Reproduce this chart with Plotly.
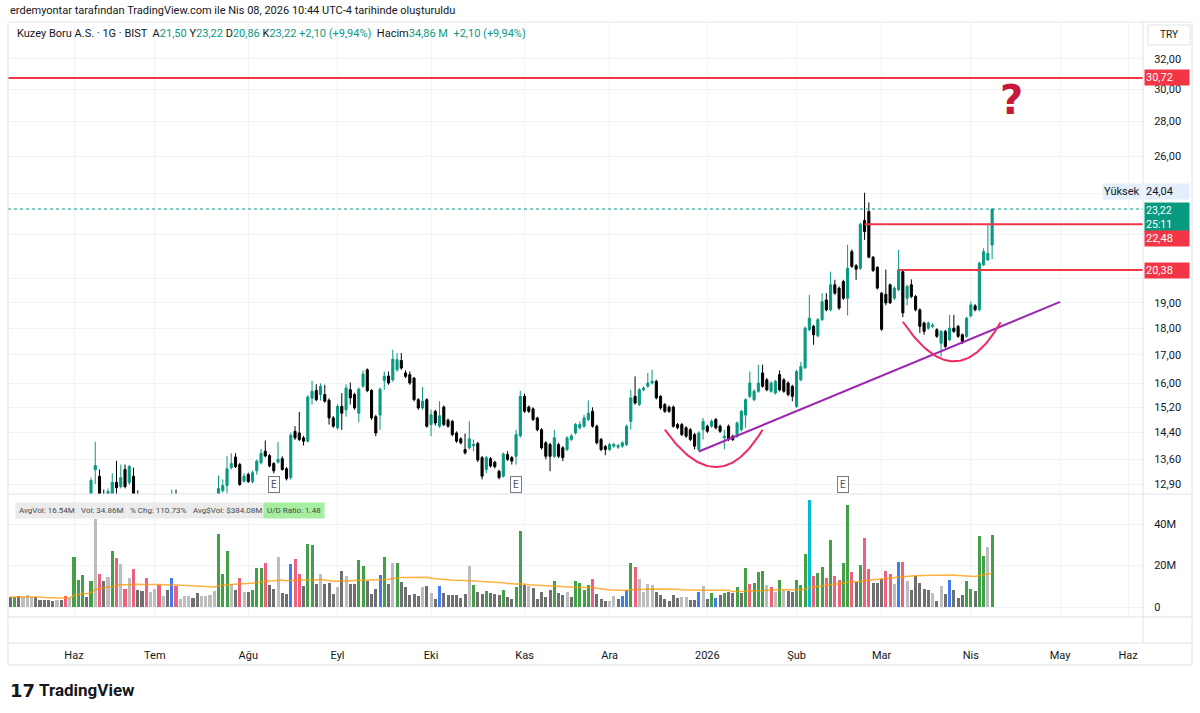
import numpy as np
import pandas as pd
import plotly.graph_objects as go

W, H = 1200, 713
FONT = "Roboto"
TXT = "#131722"
UP = "#089981"
DOWN = "#000000"
RED = "#f23645"

# ---------------- calendar (BIST trading days) ----------------
holidays = ["2025-05-19", "2025-06-06", "2025-06-09", "2025-07-15", "2025-10-29",
            "2026-01-01", "2026-03-20", "2026-04-23", "2026-05-01", "2026-05-19",
            "2026-05-27", "2026-05-28", "2026-05-29"]
cal = pd.bdate_range("2025-05-09", "2026-06-30")
cal = cal[~cal.isin(pd.to_datetime(holidays))]
cal_str = [d.strftime("%Y-%m-%d") for d in cal]
slot = {d: k for k, d in enumerate(cal_str)}
n_bars = 232
dates = cal_str[:n_bars]

# ---------------- daily OHLC (TRY) ----------------
open_ = [11.50, 11.40, 11.55, 11.45, 11.50, 11.60, 11.56, 11.46, 11.38, 11.30,
         11.22, 11.12, 11.18, 11.10, 11.02, 11.10, 11.62, 11.98, 12.40, 12.30,
         13.30, 13.12, 12.60, 12.50, 12.62, 12.95, 12.83, 13.31, 12.94, 13.12,
         12.55, 12.40, 12.28, 11.95, 12.05, 12.15, 11.90, 11.98, 11.90, 12.55,
         12.30, 12.35, 12.40, 12.44, 12.36, 12.28, 12.34, 12.38, 12.45, 12.50,
         12.72, 12.86, 13.36, 13.67, 13.45, 12.98, 13.17, 12.97, 13.27, 13.50,
         13.84, 13.71, 13.48, 13.52, 13.62, 13.33, 13.08, 14.44, 14.39, 14.24,
         14.14, 15.50, 15.76, 15.62, 15.62, 15.43, 14.86, 14.55, 15.23, 15.12,
         15.78, 15.62, 15.01, 15.90, 16.47, 15.76, 14.90, 14.95, 16.10, 16.25,
         16.12, 16.47, 16.80, 16.36, 16.30, 16.18, 15.45, 15.18, 15.45, 14.65,
         15.07, 14.60, 15.21, 14.79, 14.75, 14.39, 14.21, 13.89, 13.94, 14.00,
         14.07, 13.65, 13.31, 13.62, 13.52, 13.26, 13.12, 13.74, 13.65, 13.69,
         14.30, 15.56, 15.21, 15.15, 14.86, 14.49, 14.09, 14.04, 13.69, 14.04,
         13.94, 13.89, 14.19, 14.39, 14.55, 14.60, 14.81, 15.07, 14.60, 14.19,
         13.98, 13.89, 13.99, 13.96, 13.99, 14.04, 14.75, 15.56, 15.29, 15.78,
         15.90, 16.01, 16.07, 15.56, 15.29, 15.21, 15.21, 14.65, 14.65, 14.55,
         14.49, 14.34, 13.89, 14.49, 14.60, 14.60, 14.81, 14.60, 14.24, 14.60,
         14.29, 14.29, 14.49, 14.95, 15.56, 15.45, 15.73, 16.36, 16.12, 15.73,
         15.67, 16.30, 16.12, 16.01, 15.90, 15.23, 16.12, 16.54, 17.94, 18.07,
         17.71, 18.33, 19.12, 18.72, 19.75, 19.61, 19.89, 19.19, 21.20, 20.57,
         20.46, 22.66, 23.10, 20.95, 20.50, 19.40, 19.35, 19.75, 19.19, 19.54,
         20.31, 19.19, 19.75, 19.26, 18.72, 18.20, 18.00, 18.07, 17.94, 17.43,
         17.88, 17.56, 18.00, 18.07, 17.75, 17.69, 18.48, 18.88, 18.72, 20.61,
         20.83, 21.50]
high = [11.58, 11.62, 11.60, 11.58, 11.66, 11.64, 11.60, 11.50, 11.42, 11.34,
        11.26, 11.22, 11.22, 11.14, 11.14, 11.70, 12.05, 12.48, 12.50, 13.08,
        14.12, 13.31, 12.75, 12.78, 13.20, 13.56, 13.45, 13.45, 13.43, 13.36,
        12.73, 12.45, 12.32, 12.12, 12.22, 12.20, 12.05, 12.02, 12.75, 12.75,
        12.40, 12.46, 12.50, 12.48, 12.42, 12.40, 12.44, 12.52, 12.58, 13.14,
        13.03, 13.69, 13.78, 13.78, 13.50, 13.20, 13.22, 13.28, 13.60, 13.91,
        14.16, 13.76, 13.52, 14.12, 13.69, 13.38, 14.40, 14.60, 15.05, 14.30,
        15.60, 16.09, 15.97, 16.00, 15.95, 15.50, 14.92, 15.30, 15.67, 15.97,
        16.03, 15.68, 15.86, 16.45, 16.52, 15.80, 14.96, 15.86, 16.41, 16.41,
        17.19, 17.07, 17.07, 16.45, 16.41, 16.22, 15.50, 15.87, 15.50, 15.12,
        15.12, 15.40, 15.26, 14.84, 14.80, 14.44, 14.26, 14.37, 14.75, 14.19,
        14.12, 13.70, 13.70, 13.67, 13.56, 13.30, 13.80, 13.84, 13.70, 14.49,
        15.75, 15.65, 15.26, 15.20, 14.90, 14.54, 14.14, 14.09, 14.49, 14.09,
        13.99, 14.29, 14.36, 14.70, 14.75, 14.96, 15.43, 15.20, 14.65, 14.24,
        14.02, 14.09, 14.09, 14.06, 14.14, 14.65, 15.78, 16.24, 15.84, 15.90,
        16.36, 16.47, 16.12, 15.60, 15.34, 15.26, 15.26, 14.70, 14.70, 14.60,
        14.54, 14.39, 14.44, 14.86, 14.65, 14.81, 14.86, 14.65, 14.49, 14.65,
        14.34, 14.75, 15.12, 15.50, 16.41, 15.80, 16.65, 16.65, 16.18, 16.07,
        16.12, 16.45, 16.18, 16.07, 15.95, 16.47, 16.75, 18.07, 19.33, 18.13,
        18.39, 19.40, 19.40, 20.31, 19.96, 19.68, 19.96, 21.51, 21.30, 20.65,
        22.55, 24.04, 23.55, 21.00, 20.55, 19.45, 20.40, 19.80, 19.68, 21.28,
        20.36, 19.75, 19.98, 19.33, 18.78, 18.26, 18.26, 18.20, 18.00, 17.94,
        17.94, 18.52, 18.52, 18.13, 17.80, 18.45, 19.05, 18.95, 20.75, 21.35,
        22.48, 23.22]
low = [11.35, 11.36, 11.40, 11.42, 11.46, 11.50, 11.42, 11.34, 11.26, 11.18,
       11.08, 11.08, 11.05, 10.98, 10.98, 11.08, 11.58, 11.95, 12.22, 12.28,
       12.90, 12.50, 12.40, 12.45, 12.55, 12.60, 12.78, 12.78, 12.88, 12.50,
       12.32, 12.20, 11.90, 11.90, 12.00, 11.85, 11.86, 11.84, 11.88, 12.25,
       12.24, 12.30, 12.34, 12.30, 12.22, 12.24, 12.30, 12.34, 12.40, 12.46,
       12.67, 12.66, 13.31, 13.35, 12.85, 12.94, 12.93, 12.92, 13.16, 13.45,
       13.66, 13.37, 13.20, 13.48, 13.28, 13.00, 13.02, 14.18, 14.14, 14.01,
       14.10, 15.29, 15.40, 15.42, 15.35, 14.65, 14.55, 14.49, 14.49, 14.90,
       15.29, 15.12, 14.72, 15.85, 15.70, 14.80, 14.29, 14.49, 15.78, 15.95,
       16.05, 16.40, 16.47, 16.18, 15.95, 15.40, 15.12, 15.12, 14.55, 14.29,
       14.62, 14.55, 14.60, 14.55, 14.29, 14.09, 14.04, 13.74, 13.89, 13.84,
       13.52, 13.03, 13.20, 13.36, 13.34, 13.03, 13.08, 13.55, 13.45, 13.45,
       14.25, 15.02, 15.02, 14.76, 14.44, 13.89, 13.60, 13.26, 13.64, 13.64,
       13.55, 13.84, 14.14, 14.34, 14.50, 14.55, 14.76, 14.55, 14.04, 13.84,
       13.72, 13.84, 13.94, 13.91, 13.94, 13.99, 14.49, 15.29, 15.24, 15.73,
       15.85, 15.96, 15.46, 15.12, 15.02, 15.02, 14.55, 14.50, 14.29, 14.24,
       14.14, 13.89, 13.84, 14.19, 14.39, 14.55, 14.50, 14.39, 13.89, 14.14,
       14.14, 14.24, 14.44, 14.55, 15.50, 15.40, 15.68, 15.85, 15.73, 15.68,
       15.62, 15.73, 15.68, 15.56, 15.40, 15.18, 16.07, 16.50, 17.88, 17.37,
       17.65, 18.28, 18.66, 18.66, 19.33, 18.72, 19.12, 18.50, 20.48, 19.96,
       20.39, 21.74, 20.90, 20.30, 19.55, 17.90, 18.90, 18.95, 19.12, 19.48,
       18.43, 18.90, 19.19, 18.66, 17.82, 17.75, 17.94, 18.00, 17.63, 16.95,
       17.25, 17.50, 17.82, 17.63, 17.40, 17.63, 18.42, 18.66, 18.66, 20.56,
       20.78, 20.86]
close = [11.40, 11.55, 11.45, 11.52, 11.60, 11.56, 11.46, 11.38, 11.30, 11.22,
         11.12, 11.18, 11.10, 11.02, 11.10, 11.62, 11.98, 12.40, 12.30, 13.00,
         13.42, 12.55, 12.50, 12.70, 12.95, 12.80, 13.08, 12.83, 13.40, 12.55,
         12.40, 12.28, 11.95, 12.05, 12.15, 11.90, 11.98, 11.90, 12.55, 12.30,
         12.35, 12.40, 12.44, 12.36, 12.28, 12.34, 12.38, 12.45, 12.50, 12.78,
         12.86, 13.33, 13.48, 13.39, 12.89, 13.12, 12.97, 13.22, 13.55, 13.78,
         13.70, 13.41, 13.27, 13.60, 13.31, 13.05, 14.32, 14.24, 14.19, 14.14,
         15.54, 15.73, 15.45, 15.90, 15.40, 14.86, 14.60, 15.23, 15.01, 15.84,
         15.51, 15.18, 15.80, 16.32, 15.75, 14.86, 14.39, 15.80, 16.25, 16.01,
         16.85, 16.83, 16.53, 16.24, 16.01, 15.45, 15.18, 15.40, 14.60, 14.96,
         14.70, 14.93, 14.65, 14.60, 14.34, 14.14, 14.09, 13.79, 14.21, 14.04,
         13.58, 13.12, 13.65, 13.41, 13.39, 13.08, 13.76, 13.60, 13.55, 14.34,
         15.56, 15.07, 15.07, 14.81, 14.49, 13.94, 13.69, 13.69, 14.24, 13.69,
         13.65, 14.24, 14.30, 14.65, 14.65, 14.86, 15.01, 14.60, 14.09, 13.89,
         13.89, 14.04, 14.04, 14.01, 14.09, 14.60, 15.51, 15.34, 15.78, 15.84,
         16.01, 16.07, 15.51, 15.18, 15.07, 15.07, 14.60, 14.55, 14.34, 14.29,
         14.19, 13.99, 14.39, 14.75, 14.44, 14.75, 14.55, 14.44, 14.29, 14.19,
         14.19, 14.70, 15.07, 15.45, 16.01, 15.73, 16.01, 15.90, 15.78, 16.01,
         16.07, 15.78, 15.73, 15.62, 15.56, 16.41, 16.58, 18.00, 18.39, 17.75,
         18.33, 19.05, 18.72, 19.75, 19.40, 18.79, 19.19, 20.46, 20.54, 20.42,
         22.48, 22.13, 20.95, 20.36, 19.61, 17.96, 19.00, 19.00, 19.61, 20.39,
         18.60, 19.68, 19.26, 18.72, 18.07, 17.88, 18.20, 18.11, 17.69, 17.88,
         17.31, 18.00, 17.88, 17.69, 17.50, 18.39, 18.92, 18.72, 20.68, 21.20,
         21.12, 23.22]

# ---------------- volume (millions) and its colour class ----------------
volume_m = [4.8, 4.8, 5.3, 4.8, 5.6, 4.8, 4.8, 3.2, 3.5, 3.2,
            2.9, 3.2, 3.5, 5.3, 4.5, 24.1, 13.2, 15.3, 4.8, 12.4,
            42.6, 16.1, 12.5, 14.5, 27.0, 23.8, 20.6, 8.8, 13.9, 18.5,
            8.0, 7.6, 13.9, 7.2, 8.8, 10.4, 5.3, 8.0, 13.9, 9.9,
            4.0, 5.3, 5.3, 4.3, 6.9, 5.3, 5.3, 5.6, 7.6, 35.0,
            16.1, 27.0, 11.2, 8.0, 13.9, 7.2, 7.2, 8.0, 18.6, 18.6,
            21.3, 10.4, 8.8, 24.1, 6.9, 6.1, 20.9, 23.3, 16.1, 9.9,
            30.6, 29.7, 10.9, 15.8, 10.9, 11.6, 6.1, 9.6, 17.2, 15.0,
            11.2, 11.2, 22.8, 19.6, 12.4, 6.4, 8.5, 15.2, 24.0, 10.9,
            21.4, 21.4, 12.1, 9.4, 5.6, 6.1, 5.1, 9.4, 10.1, 6.8,
            4.0, 10.1, 6.8, 5.9, 5.6, 5.6, 4.3, 6.4, 19.8, 10.6,
            7.2, 6.3, 7.6, 6.8, 6.3, 5.9, 8.2, 4.8, 4.0, 9.5,
            36.5, 10.8, 10.1, 9.0, 4.0, 7.4, 4.8, 8.2, 12.4, 6.8,
            5.6, 7.4, 4.8, 12.4, 11.7, 8.2, 10.4, 13.3, 6.3, 4.0,
            2.7, 2.7, 5.1, 4.0, 5.1, 8.0, 21.4, 19.1, 13.3, 7.2,
            10.9, 10.4, 7.1, 5.9, 3.7, 2.7, 5.9, 4.3, 4.6, 4.6,
            3.2, 3.2, 7.1, 10.1, 4.0, 6.9, 4.3, 5.6, 6.6, 7.2,
            6.6, 9.8, 6.6, 18.9, 11.2, 11.7, 16.7, 17.3, 10.8, 9.4,
            7.2, 12.8, 8.0, 7.7, 7.4, 12.8, 10.4, 25.7, 51.4, 14.8,
            16.5, 19.3, 13.9, 32.4, 14.8, 12.8, 21.2, 49.3, 17.0, 12.0,
            20.1, 33.4, 18.1, 11.7, 11.7, 13.3, 17.3, 15.9, 11.2, 21.7,
            21.7, 12.4, 8.2, 14.9, 11.7, 8.8, 8.0, 6.8, 2.7, 10.0,
            6.1, 13.2, 8.2, 4.5, 5.6, 12.4, 8.8, 7.6, 34.4, 24.4,
            28.9, 34.86]
vol_kind = ("DGDLLLDDDDDLDRLGGGDGLRDLGRLRLRDDRLLRLDBRLLLDDLLLLGGGLDRLDGGGRDDLDDBRRDGGDLDDDLDLDDGGDDDBGDLGDDDDDLDLDBDDDDDDLGDDGDDDGDDGGDLDDDDDGDDLDGGGGRDDDLLDBBGRLLLLDDDDDDLLDDBLDGBDGDDGDGRGGGLRLGLDDGGGCRGGRGRRGGRDGRRDDDRRLBRLDDDDDLDLDBDDDGGDGGLG")
vol_colors = {"G": "#43a047", "R": "#f0607c", "D": "#6f6f6f", "L": "#bdbdbd",
              "B": "#3f7cf4", "C": "#00bcd4"}

# ---------------- axis ticks ----------------
month_labels = ["Haz", "Tem", "Ağu", "Eyl", "Eki", "Kas", "Ara", "2026",
                "Şub", "Mar", "Nis", "May", "Haz"]
month_starts = ["2025-06", "2025-07", "2025-08", "2025-09", "2025-10", "2025-11",
                "2025-12", "2026-01", "2026-02", "2026-03", "2026-04", "2026-05", "2026-06"]
price_ticks = [12.9, 13.6, 14.4, 15.2, 16, 17, 18, 19, 20, 22, 24, 26, 28, 30, 32]
hidden_tick_labels = [20, 22, 24]   # covered by the coloured price labels
vol_ticks = [0, 20e6, 40e6]
vol_tick_text = ["0", "20M", "40M"]

# ---------------- drawings ----------------
level_prices = [30.72, 22.48, 20.38]
level_starts = [None, "2026-02-24", "2026-03-06"]
trend_dates = ["2025-12-30", "2026-05-04"]
trend_prices = [13.83, 19.04]
arc1_dates = ["2025-12-18", "2026-01-06", "2026-01-21"]
arc1_prices = [14.49, 13.38, 14.49]
arc2_dates = ["2026-03-09", "2026-03-26", "2026-04-10"]
arc2_prices = [18.25, 16.77, 18.23]
earnings_dates = ["2025-08-11", "2025-10-30", "2026-02-17"]
last_price = 23.22
period_high = 24.04

# ---------------- helpers ----------------
def px(xp):
    return xp / W

def py(yp):
    return 1 - yp / H

xs = [slot[d] for d in dates]
month_pos = [next(k for k, d in enumerate(cal_str) if d.startswith(m)) for m in month_starts]
X0, X1 = -0.53, 266.5

fig = go.Figure()

fig.add_trace(go.Candlestick(
    x=xs, open=open_, high=high, low=low, close=close,
    increasing=dict(line=dict(color=UP, width=1), fillcolor=UP),
    decreasing=dict(line=dict(color=DOWN, width=1), fillcolor=DOWN),
    whiskerwidth=0, xaxis="x", yaxis="y", hoverinfo="skip", showlegend=False))

vol = np.array(volume_m) * 1e6
fig.add_trace(go.Bar(
    x=xs, y=vol, width=0.72, marker=dict(color=[vol_colors[k] for k in vol_kind], line=dict(width=0)),
    xaxis="x2", yaxis="y2", hoverinfo="skip", showlegend=False))
ma = pd.Series(vol).rolling(50, min_periods=1).mean()
fig.add_trace(go.Scatter(x=xs, y=ma, mode="lines", line=dict(color="rgba(255,152,0,0.75)", width=1.5),
                         xaxis="x2", yaxis="y2", hoverinfo="skip", showlegend=False))
# invisible carrier so the time axis (x3) is drawn
fig.add_trace(go.Scatter(x=[X0], y=[0.5], mode="markers", marker=dict(opacity=0),
                         xaxis="x3", yaxis="y3", hoverinfo="skip", showlegend=False))

# price line (dotted)
fig.add_trace(go.Scatter(x=[X0, X1], y=[last_price, last_price], mode="lines",
                         line=dict(color=UP, width=1, dash="dot"), hoverinfo="skip", showlegend=False))
# horizontal levels
for p, s in zip(level_prices, level_starts):
    x_start = X0 if s is None else slot[s]
    fig.add_trace(go.Scatter(x=[x_start, X1], y=[p, p], mode="lines",
                             line=dict(color=RED, width=2), hoverinfo="skip", showlegend=False))
# trend line
fig.add_trace(go.Scatter(x=[slot[d] for d in trend_dates], y=trend_prices, mode="lines",
                         line=dict(color="#9c27b0", width=2), hoverinfo="skip", showlegend=False))

# arcs: quadratic curve through start / bottom / end (in log-price space)
def arc_curve(ds, ps):
    ax = np.array([slot[d] for d in ds], float)
    ay = np.log(np.array(ps))
    cx = 2 * ax[1] - (ax[0] + ax[2]) / 2
    cy = 2 * ay[1] - (ay[0] + ay[2]) / 2
    t = np.linspace(0, 1, 60)
    bx = (1 - t) ** 2 * ax[0] + 2 * t * (1 - t) * cx + t ** 2 * ax[2]
    by = (1 - t) ** 2 * ay[0] + 2 * t * (1 - t) * cy + t ** 2 * ay[2]
    return bx, np.exp(by)

for ds, ps in [(arc1_dates, arc1_prices), (arc2_dates, arc2_prices)]:
    bx, by = arc_curve(ds, ps)
    fig.add_trace(go.Scatter(x=bx, y=by, mode="lines", line=dict(color="#ee2a62", width=2),
                             hoverinfo="skip", showlegend=False))

grid = "#f0f3fa"
fmt = lambda v: f"{v:.2f}".replace(".", ",")
fig.update_layout(
    width=W, height=H, margin=dict(l=0, r=0, t=0, b=0),
    paper_bgcolor="white", plot_bgcolor="white",
    font=dict(family=FONT, color=TXT, size=11),
    showlegend=False, bargap=0,
    xaxis=dict(domain=[px(8), px(1143)], range=[X0, X1], anchor="y",
               tickvals=month_pos, showticklabels=False, showgrid=True, gridcolor=grid,
               zeroline=False, showline=False, ticks="", rangeslider=dict(visible=False), fixedrange=True),
    xaxis2=dict(domain=[px(8), px(1143)], matches="x", anchor="y2", tickvals=month_pos,
                showticklabels=False, showgrid=True, gridcolor=grid, zeroline=False, ticks=""),
    xaxis3=dict(domain=[px(8), px(1143)], matches="x", anchor="y3", tickvals=month_pos,
                ticktext=month_labels, showgrid=False, zeroline=False, ticks="outside",
                ticklen=2, tickcolor="rgba(0,0,0,0)", tickfont=dict(size=11, color=TXT)),
    yaxis=dict(domain=[py(494), py(22)], type="log",
               range=[np.log10(12.63), np.log10(34.63)], side="right", anchor="x",
               tickvals=price_ticks,
               ticktext=["" if v in hidden_tick_labels else fmt(v) for v in price_ticks],
               showgrid=True, gridcolor=grid, zeroline=False, ticks="outside", ticklen=8,
               tickcolor="rgba(0,0,0,0)", tickfont=dict(size=11, color=TXT)),
    yaxis2=dict(domain=[py(617), py(494)], range=[-4.82e6, 54.46e6], side="right", anchor="x2",
                tickvals=vol_ticks, ticktext=vol_tick_text, showgrid=True, gridcolor=grid,
                zeroline=False, ticks="outside", ticklen=8, tickcolor="rgba(0,0,0,0)",
                tickfont=dict(size=11, color=TXT)),
    yaxis3=dict(domain=[py(643), py(617)], range=[0, 1], anchor="x3", visible=False),
)

border = "#e0e3eb"
shapes = [
    dict(type="rect", xref="paper", yref="paper", x0=px(8), x1=px(1192), y0=py(665), y1=py(22),
         line=dict(color=border, width=1)),
    dict(type="line", xref="paper", yref="paper", x0=px(1143), x1=px(1143), y0=py(643), y1=py(22),
         line=dict(color=border, width=1)),
    dict(type="line", xref="paper", yref="paper", x0=px(8), x1=px(1192), y0=py(494), y1=py(494),
         line=dict(color=border, width=1)),
    dict(type="line", xref="paper", yref="paper", x0=px(8), x1=px(1192), y0=py(617), y1=py(617),
         line=dict(color=border, width=1)),
    dict(type="line", xref="paper", yref="paper", x0=px(8), x1=px(1192), y0=py(643), y1=py(643),
         line=dict(color=border, width=1)),
    dict(type="rect", xref="paper", yref="paper", x0=px(1148), x1=px(1190), y0=py(45), y1=py(25),
         line=dict(color=border, width=1), fillcolor="white"),
]
fig.update_layout(shapes=shapes)

ann = []
ann.append(dict(xref="paper", yref="paper", x=px(8), y=py(11), xanchor="left", yanchor="middle",
                text="erdemyontar tarafından TradingView.com ile Nis 08, 2026 10:44 UTC-4 tarihinde oluşturuldu",
                showarrow=False, font=dict(size=11, color=TXT)))
g = lambda s: f"<span style='color:{UP}'>{s}</span>"
legend = ("Kuzey Boru A.S. · 1G · BIST  A" + g("21,50") + " Y" + g("23,22") + " D" + g("20,86") +
          " K" + g("23,22") + " " + g("+2,10 (+9,94%)") + "  Hacim" + g("34,86 M") + "  " + g("+2,10 (+9,94%)"))
ann.append(dict(xref="paper", yref="paper", x=px(15), y=py(33), xanchor="left", yanchor="middle",
                text=legend, showarrow=False, font=dict(size=11, color=TXT)))
ann.append(dict(xref="paper", yref="paper", x=px(1169), y=py(35), xanchor="center", yanchor="middle",
                text="TRY", showarrow=False, font=dict(size=10, color=TXT)))

def price_label(p, text, bg, fg="white", yshift=0, yanchor="middle", size=11, pad=1):
    return dict(xref="paper", yref="y", x=px(1144), y=np.log10(p), xanchor="left", yanchor=yanchor,
                text=text, showarrow=False, bgcolor=bg, font=dict(size=size, color=fg),
                width=42, align="left", borderpad=pad, yshift=yshift)

ann.append(price_label(30.72, fmt(30.72), RED, yshift=1))
ann.append(price_label(period_high, fmt(period_high), "#e3effd", fg=TXT, yshift=1))
ann.append(dict(xref="paper", yref="y", x=px(1142), y=np.log10(period_high), xanchor="right", yanchor="middle",
                text="Yüksek", showarrow=False, bgcolor="#e3effd", font=dict(size=11, color=TXT),
                borderpad=1, yshift=1))
ann.append(price_label(last_price, fmt(last_price) + "<br>25:11", UP, yanchor="top", yshift=7,
                       size=10.5, pad=1))
ann.append(price_label(22.48, fmt(22.48), RED, yshift=-14))
ann.append(price_label(20.38, fmt(20.38), RED))

for d in earnings_dates:
    ann.append(dict(xref="x", yref="paper", x=slot[d], y=py(484), xanchor="center", yanchor="middle",
                    text="E", showarrow=False, font=dict(size=10, color="#50535e"),
                    bordercolor="#787b86", borderwidth=1, borderpad=2, bgcolor="white"))

ind = [("AvgVol: 16.54M", 15, "#ebebeb"), ("Vol: 34.86M", 77, "#ebebeb"),
       ("% Chg: 110.73%", 126, "#ebebeb"), ("Avg$Vol: $384.08M", 189, "#ebebeb"),
       ("U/D Ratio: 1.48", 263, "#a6eea0")]
for t, xp, bg in ind:
    ann.append(dict(xref="paper", yref="paper", x=px(xp), y=py(510), xanchor="left", yanchor="middle",
                    text=t, showarrow=False, bgcolor=bg, borderpad=3, font=dict(size=8, color="#4a4a4a")))

ann.append(dict(xref="paper", yref="paper", x=px(1011), y=py(100), xanchor="center", yanchor="middle",
                text="<b>?</b>", showarrow=False, font=dict(size=40, color="#c8193c", family="DejaVu Sans")))

ann.append(dict(xref="paper", yref="paper", x=px(8), y=py(690), xanchor="left", yanchor="middle",
                text="<b>17</b>", showarrow=False, font=dict(size=18, color=TXT, family="DejaVu Sans")))
ann.append(dict(xref="paper", yref="paper", x=px(37), y=py(690), xanchor="left", yanchor="middle",
                text="<b>TradingView</b>", showarrow=False, font=dict(size=17, color=TXT, family=FONT)))
fig.update_layout(annotations=ann)

fig.write_html("out.html", config={"responsive": False, "displayModeBar": False},
               post_script="document.body.style.margin='0';document.body.style.overflow='hidden';")
